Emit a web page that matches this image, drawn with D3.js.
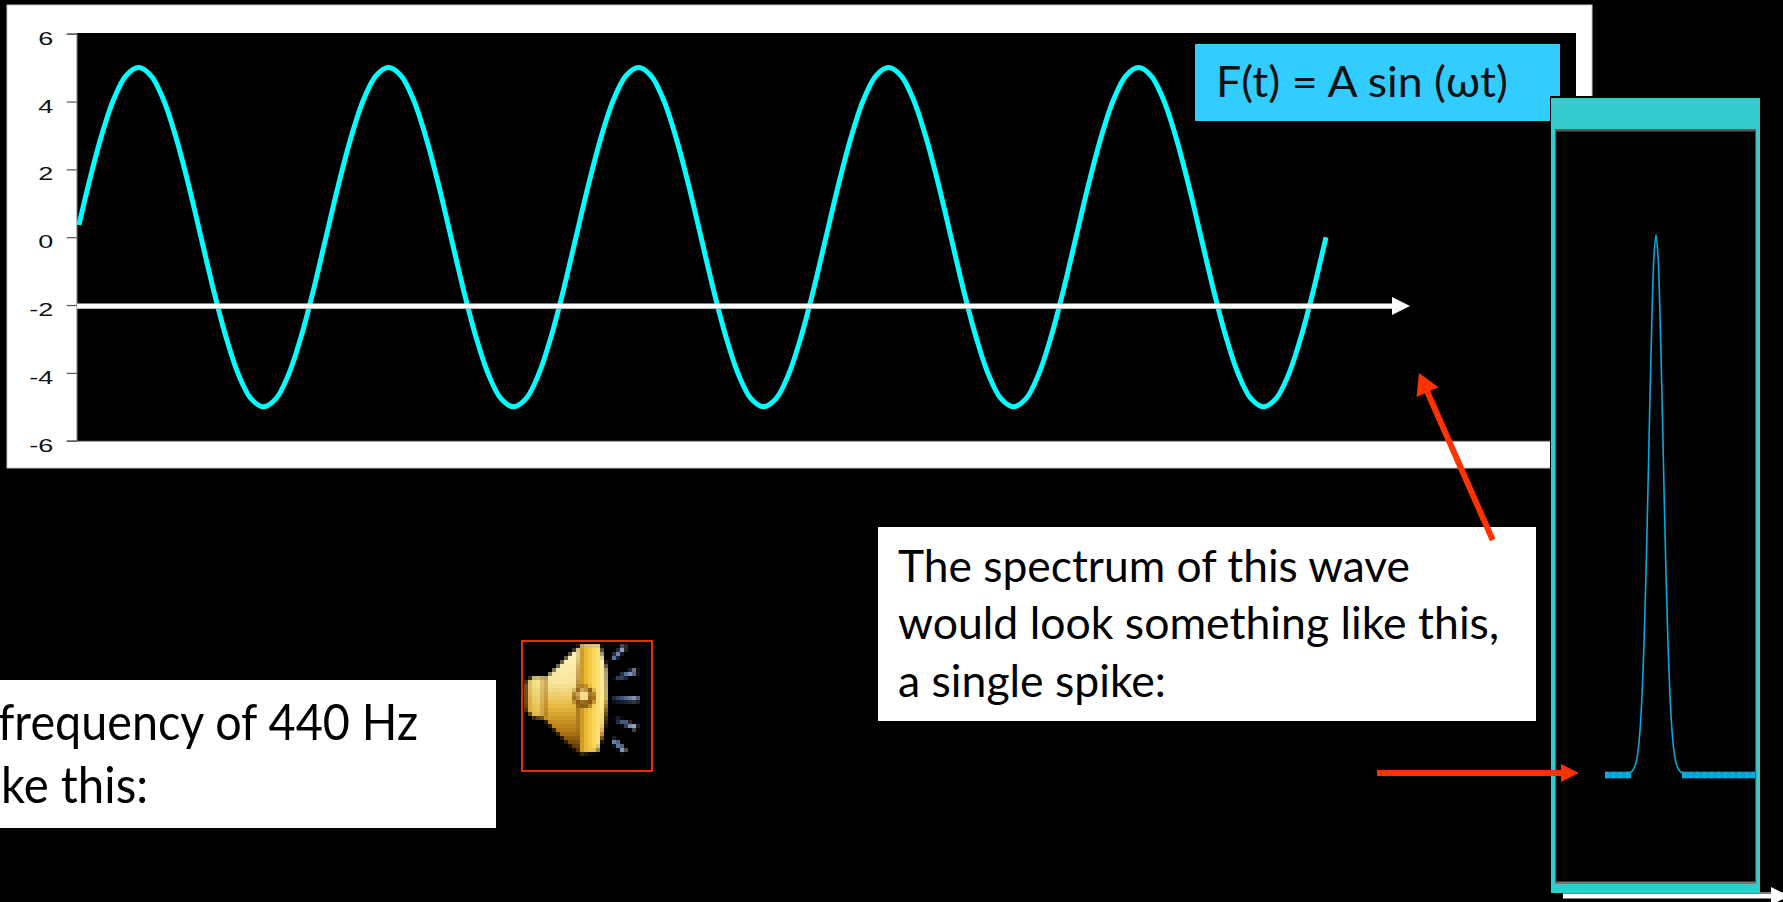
<!DOCTYPE html>
<html><head><meta charset="utf-8">
<style>html,body{margin:0;padding:0;background:#000;overflow:hidden}svg{display:block}</style>
<script src="https://d3js.org/d3.v7.min.js"></script></head>
<body><svg id="c" width="1783" height="902"></svg>
<script>
// ---- data ----
const yTicks = [6,4,2,0,-2,-4,-6];
const waveTimes = [0.24,1,2,3,4,5,6,7,8,9,10,11,12,13,14,15,16,17,18,19,20,21,22,23,24,25,26,27,28,29,30,31,32,33,34,35,36,37,38,39,40,41,42,43,44,45,46,47,48,49,50,51,52,53,54,55,56,57,58,59,60,61,62,63,64,65,66,67,68,69,70,71,72,73,74,75,76,77,78,79,80,81,82,83,84,85,86,87,88,89,90,91,92,93,94,95,96,97,98,99,100];
const waveValues = [0.36,1.55,2.94,4.05,4.76,5,4.76,4.05,2.94,1.55,0,-1.55,-2.94,-4.05,-4.76,-5,-4.76,-4.05,-2.94,-1.55,
 0,1.55,2.94,4.05,4.76,5,4.76,4.05,2.94,1.55,0,-1.55,-2.94,-4.05,-4.76,-5,-4.76,-4.05,-2.94,-1.55,
 0,1.55,2.94,4.05,4.76,5,4.76,4.05,2.94,1.55,0,-1.55,-2.94,-4.05,-4.76,-5,-4.76,-4.05,-2.94,-1.55,
 0,1.55,2.94,4.05,4.76,5,4.76,4.05,2.94,1.55,0,-1.55,-2.94,-4.05,-4.76,-5,-4.76,-4.05,-2.94,-1.55,
 0,1.55,2.94,4.05,4.76,5,4.76,4.05,2.94,1.55,0,-1.55,-2.94,-4.05,-4.76,-5,-4.76,-4.05,-2.94,-1.55,0];
const spikeFreq = [332,344,360,368,376,384,392,400,408,416,424,432,440,448,456,464,472,480,488,496,504,512,520,536,548];
const spikeAmp  = [0,0.003,0.019,0.04,0.079,0.143,0.24,0.37,0.53,0.70,0.853,0.961,1,0.961,0.853,0.70,0.53,0.37,0.24,0.143,0.079,0.04,0.019,0.003,0];
const floorLeft = [236,340];
const floorRight = [544,836];
const formulaText = "F(t) = A sin (ωt)";
const spectrumLines = ["The spectrum of this wave","would look something like this,","a single spike:"];
const soundLines = ["frequency of 440 Hz","ke this:"];

const svg = d3.select("#c");
const RED="#ff3300", TEAL="#33cccc", WHITE="#fff";
const FONT="Lato, Carlito, 'Open Sans', sans-serif";

function rect(x0,y0,x1,y1,fill,stroke,sw){
  return svg.append("rect").attr("x",x0).attr("y",y0).attr("width",x1-x0).attr("height",y1-y0)
    .attr("fill",fill).attr("stroke",stroke||"none").attr("stroke-width",sw||0);
}
function arrow(x0,y0,x1,y1,w,hl,hw,col){
  const a=Math.atan2(y1-y0,x1-x0),c=Math.cos(a),s=Math.sin(a);
  const bx=x1-hl*c,by=y1-hl*s;
  svg.append("line").attr("x1",x0).attr("y1",y0).attr("x2",bx+c).attr("y2",by+s).attr("stroke",col).attr("stroke-width",w);
  svg.append("polygon").attr("fill",col).attr("points",[[x1,y1],[bx-hw*s,by+hw*c],[bx+hw*s,by-hw*c]].map(p=>p.join(",")).join(" "));
}
function label(txt,x,y,size,len,col){
  return svg.append("text").attr("x",x).attr("y",y).attr("font-family",FONT).attr("font-size",size)
    .attr("fill",col||"#000").attr("textLength",len).attr("lengthAdjust","spacingAndGlyphs").text(txt);
}

// panel and plot
rect(7,5,1592,468,WHITE,"#c8c8c8",1);
rect(77,33,1576,441,"#000");

const x = d3.scaleLinear().domain([0,100]).range([76,1326]);
const y = d3.scaleLinear().domain([-6,6]).range([440.7,33.7]);

const ax = svg.append("g").attr("transform","translate(76.7,0)").call(d3.axisLeft(y).tickValues(yTicks).tickSize(10).tickFormat(d=>String(d)));
ax.selectAll("path,line").attr("stroke","#555").attr("stroke-width",1.2);
ax.selectAll("text").attr("font-family","'Liberation Sans',Arial,sans-serif").attr("font-size",18).attr("fill","#111")
  .attr("x",0).attr("dy",0).attr("y",0).attr("text-anchor","end")
  .attr("transform","translate(-23.5,10.5) scale(1.5,1)");
svg.append("line").attr("x1",77).attr("x2",1576).attr("y1",441).attr("y2",441).attr("stroke","#444").attr("stroke-width",1);

// wave
svg.append("path").datum(waveValues).attr("fill","none").attr("stroke","#00ffff").attr("stroke-width",5)
  .attr("d",d3.line().x((d,i)=>x(waveTimes[i])).y(d=>y(d)).curve(d3.curveCatmullRom));

// time axis arrow
svg.append("line").attr("x1",77).attr("x2",1395).attr("y1",308.6).attr("y2",308.6).attr("stroke","#777").attr("stroke-width",1);
arrow(77,306,1410,306,5,18,9,WHITE);

// formula
rect(1195,44,1560,121,"#33ccff");
label(formulaText,1216,97,43,292,"#111");

// text boxes
rect(878,527,1536,721,WHITE);
spectrumLines.forEach((t,i)=>label(t,898,[582,639,697][i],45,[512,601,268][i],"#000"));
rect(0,680,496,828,WHITE);
soundLines.forEach((t,i)=>label(t,[-2,1][i],[740,803][i],50,[420,147][i],"#000"));

// spectrum window
rect(1550,96,1760,902,"#000");
rect(1551,98,1760,893,TEAL);
rect(1555.5,129,1756,883,"#000");
rect(1555,129,1756,131.5,"#5a5a5a");
rect(1555,881.5,1756,884,"#777");
svg.append("line").attr("x1",1555.7).attr("x2",1555.7).attr("y1",130).attr("y2",883).attr("stroke","#666");
svg.append("line").attr("x1",1755.7).attr("x2",1755.7).attr("y1",130).attr("y2",883).attr("stroke","#666");

const fx = d3.scaleLinear().domain([236,836]).range([1605,1755]);
const fy = d3.scaleLinear().domain([0,1]).range([773,235]);
svg.append("path").datum(spikeAmp).attr("fill","none").attr("stroke","#08a8dc").attr("stroke-width",1.6)
  .attr("d",d3.line().x((d,i)=>fx(spikeFreq[i])).y(d=>fy(d)).curve(d3.curveCatmullRom));
[floorLeft,floorRight].forEach(seg=>{
  svg.append("line").attr("x1",fx(seg[0])).attr("x2",fx(seg[1])).attr("y1",fy(0)+2).attr("y2",fy(0)+2)
    .attr("stroke","#0aa2d2").attr("stroke-width",6.5);
  svg.append("line").attr("x1",fx(seg[0])).attr("x2",fx(seg[1])).attr("y1",fy(0)+2).attr("y2",fy(0)+2)
    .attr("stroke","#0cabdc").attr("stroke-width",6.5).attr("stroke-dasharray","3 4");
});

// arrows
arrow(1377,773,1579,773,6,18,9,RED);
arrow(1492.7,540,1419,373,6,21,12,RED);
svg.append("line").attr("x1",1760).attr("x2",1783).attr("y1",892.5).attr("y2",892.5).attr("stroke","#777");
arrow(1563,896,1789,896,5,18,9,WHITE);

// speaker icon: drawn at low resolution, then shown with hard pixels
svg.append("rect").attr("x",522).attr("y",641).attr("width",130).attr("height",130).attr("fill","#000").attr("stroke",RED).attr("stroke-width",1.8);
const cv=document.createElement("canvas"); cv.width=40; cv.height=40;
const k=cv.getContext("2d");
k.scale(1/12,1/12); // icon units: 12 per low-res pixel, origin at the crop corner
k.translate(-60,-60);
let g=k.createLinearGradient(0,76,0,400);
[[0,"#fff7bc"],[.35,"#f7e59a"],[.58,"#e4b63c"],[.8,"#b27812"],[1,"#3e2404"]].forEach(s=>g.addColorStop(s[0],s[1]));
k.fillStyle=g;
k.fill(new Path2D("M80,185 L100,170 L140,170 L215,100 L245,76 L300,76 L320,150 L322,240 L312,340 L290,398 L235,400 L200,365 L130,295 L100,292 L80,270 Z"));
let b=k.createLinearGradient(80,0,140,0);
b.addColorStop(0,"rgba(190,120,20,.55)");b.addColorStop(.5,"rgba(255,240,150,.35)");b.addColorStop(1,"rgba(150,90,10,.7)");
k.fillStyle=b; k.fill(new Path2D("M80,185 L100,170 L140,170 L140,292 L100,292 L80,270 Z"));
let r=k.createLinearGradient(232,0,320,0);
[[0,"#8a5a10"],[.2,"#e2ac2a"],[.5,"#f8d24a"],[.75,"#fbe27e"],[1,"#fff8c0"]].forEach(s=>r.addColorStop(s[0],s[1]));
k.fillStyle=r; k.fill(new Path2D("M238,80 L298,78 Q330,230 296,392 L240,398 Q222,230 238,80 Z"));
k.fillStyle="#8a5a10"; k.beginPath(); k.arc(252,232,33,0,7); k.fill();
k.fillStyle="#f6dc90"; k.beginPath(); k.arc(250,226,18,0,7); k.fill();
[[340,115,375,80],[345,178,410,152],[335,237,415,237],[345,298,410,323],[340,360,375,395]].forEach((p,i)=>{
  const lg=k.createLinearGradient(p[0],p[1],p[2],p[3]);
  lg.addColorStop(0,i%4?"#1e2a40":"#7f9fdc"); lg.addColorStop(.55,"#6f86b4"); lg.addColorStop(1,"#c8d6ee");
  k.strokeStyle=lg; k.lineWidth=13; k.beginPath(); k.moveTo(p[0],p[1]); k.lineTo(p[2],p[3]); k.stroke();
});
svg.append("image").attr("href",cv.toDataURL()).attr("x",520).attr("y",640).attr("width",160).attr("height",160)
  .style("image-rendering","pixelated");
</script></body></html>
